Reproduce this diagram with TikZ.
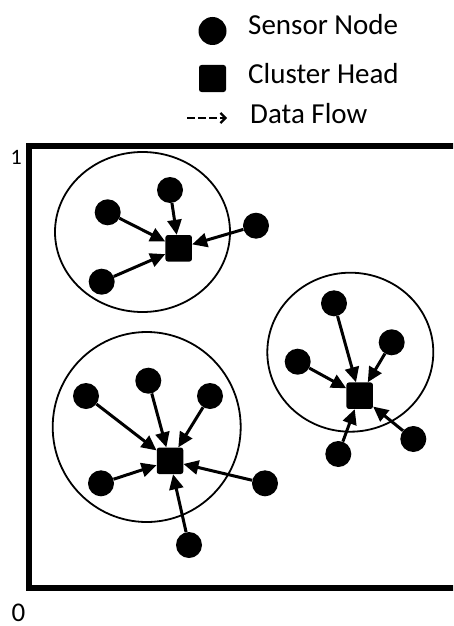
\documentclass[tikz,border=0pt]{standalone}
\usepackage{fontspec}
\setmainfont{Carlito}
\usetikzlibrary{arrows.meta}
\begin{document}
\begin{tikzpicture}[x=1pt,y=-1pt,
  sensor/.style={circle,fill=black,minimum size=26pt,inner sep=0pt},
  head/.style={rectangle,fill=black,minimum size=26.5pt,inner sep=0pt,rounded corners=2.5pt},
  cluster/.style={draw=black,line width=1.8pt},
  flow/.style={line width=3pt,-{Triangle[length=15pt,width=14pt]}},
  legendflow/.style={line width=2.4pt,dash pattern=on 7.5pt off 3.5pt,-{Straight Barb[length=5pt,width=10pt,line width=2.2pt]}},
  legendtext/.style={anchor=base west,inner sep=0pt,font=\fontsize{29}{29}\selectfont},
  axislabel/.style={anchor=base west,inner sep=0pt},
  frame/.style={line width=5.5pt,line join=miter}
]
\useasboundingbox (0,0) rectangle (453,626);
\clip (0,0) rectangle (453,626);

% legend
\node[sensor,minimum size=28pt] (lgsensor) at (212.5,31) {};
\node[head,minimum size=27pt] (lghead) at (212.5,78.5) {};
\coordinate (lgfrom) at (187,118);
\coordinate (lgto) at (227,118);
\draw[legendflow] (lgfrom) -- (lgto);
\node[legendtext] (lgsensortext) at (248,35) {Sensor Node};
\node[legendtext] (lgheadtext) at (248,83) {Cluster Head};
\node[legendtext] (lgflowtext) at (250,123) {Data Flow};

% field boundary and axis marks
\draw[frame] (470,146) -- (29.2,146) -- (29.2,588) -- (470,588);
\node[axislabel,font=\fontsize{22}{22}\selectfont] (top) at (10.5,164.5) {1};
\node[axislabel,font=\fontsize{27}{27}\selectfont] (bottom) at (11.5,621) {0};

% cluster 1
\draw[cluster] (142.5,232) ellipse [x radius=87.5pt, y radius=80pt];
\node[head] (h1) at (178.7,248.3) {};
\node[sensor] (s11) at (170,190) {};
\node[sensor] (s12) at (107.7,212.3) {};
\node[sensor] (s13) at (256,225.7) {};
\node[sensor] (s14) at (101.7,281.7) {};
\foreach \s in {s11,s12,s13,s14} \draw[flow] (\s) -- (h1);

% cluster 2
\draw[cluster] (146.7,427) ellipse [x radius=94pt, y radius=95pt];
\node[head] (h2) at (170,460.8) {};
\node[sensor] (s21) at (86,396) {};
\node[sensor] (s22) at (148.3,380.7) {};
\node[sensor] (s23) at (210,396) {};
\node[sensor] (s24) at (101,483.3) {};
\node[sensor] (s25) at (265,483.3) {};
\node[sensor] (s26) at (189,545) {};
\foreach \s in {s21,s22,s23,s24,s25,s26} \draw[flow] (\s) -- (h2);

% cluster 3
\draw[cluster] (350.3,352.2) ellipse [x radius=83pt, y radius=79.5pt];
\node[head] (h3) at (359.7,395.7) {};
\node[sensor] (s31) at (334,303.3) {};
\node[sensor] (s32) at (391.7,342.3) {};
\node[sensor] (s33) at (297.7,361.7) {};
\node[sensor] (s34) at (338.3,454) {};
\node[sensor] (s35) at (413.3,439) {};
\foreach \s in {s31,s32,s33,s34,s35} \draw[flow] (\s) -- (h3);
\end{tikzpicture}
\end{document}
